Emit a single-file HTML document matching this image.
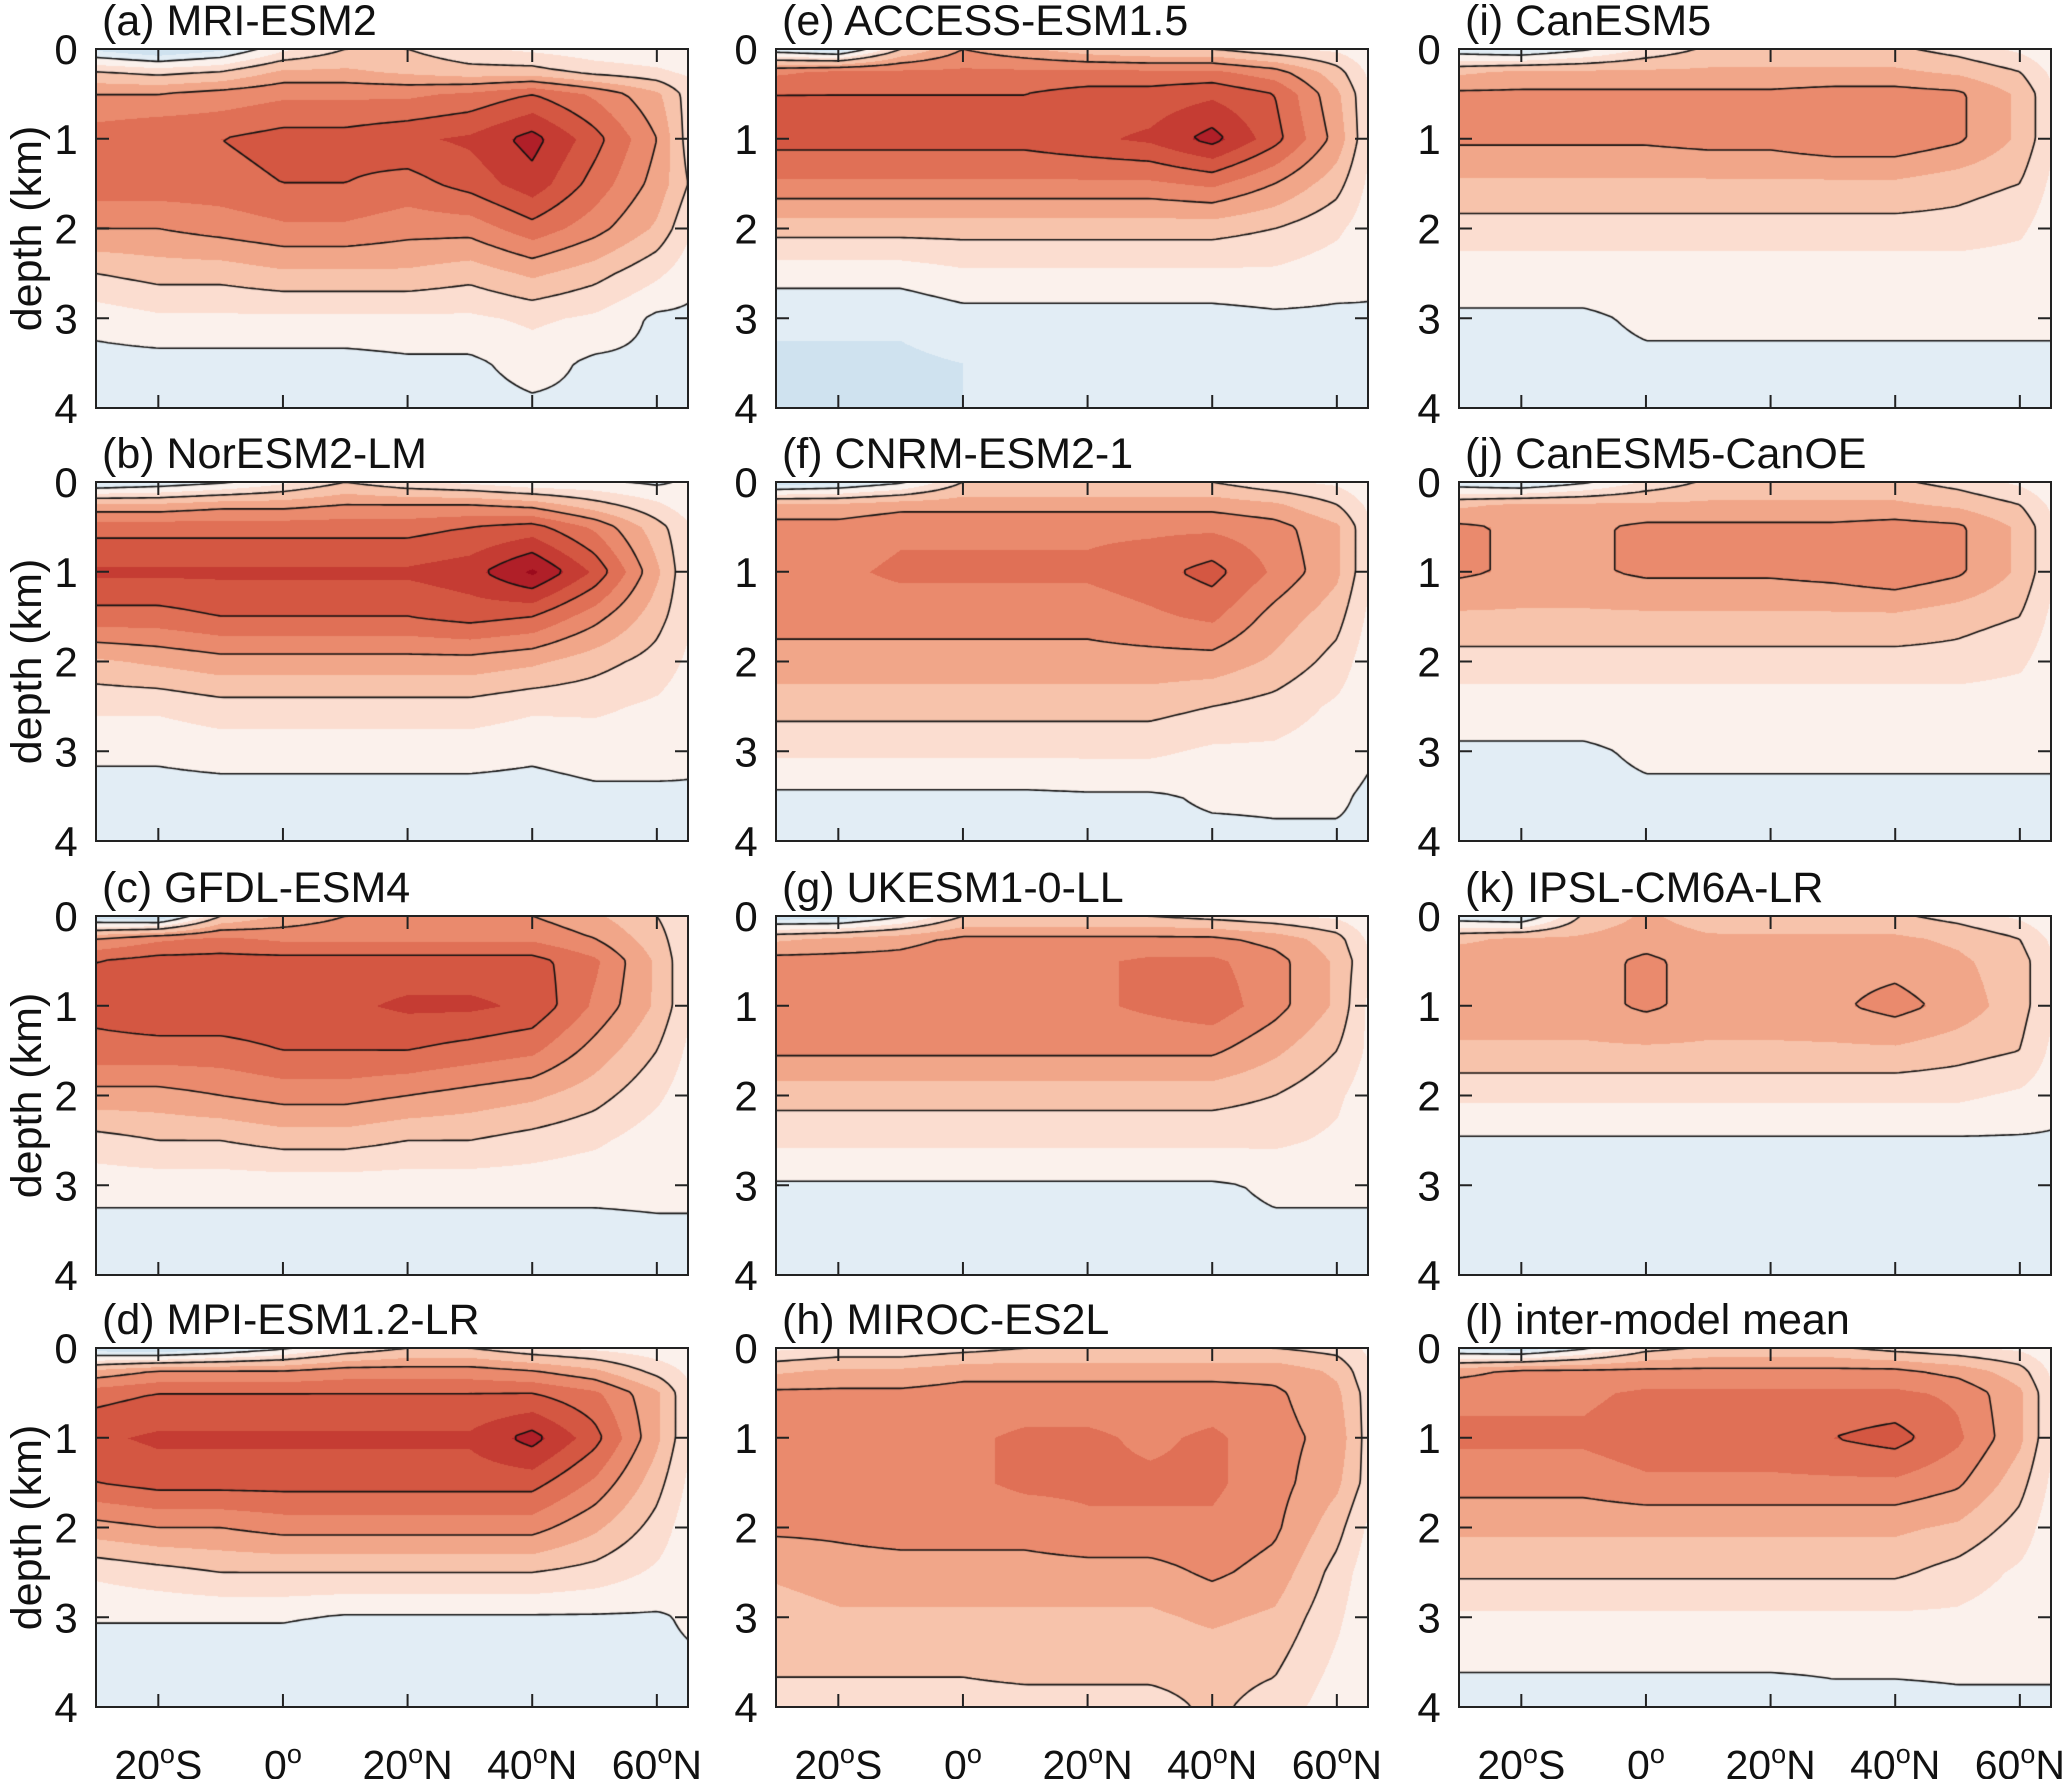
<!DOCTYPE html>
<html><head><meta charset="utf-8"><style>
body{margin:0;background:#fff;width:2067px;height:1779px;overflow:hidden;position:relative;font-family:"Liberation Sans",sans-serif}
canvas{position:absolute}
svg{position:absolute;left:0;top:0}
</style></head><body>
<div id="plots"></div>
<svg id="ov" width="2067" height="1779"></svg>
<script>
const lats=[-30,-20,-10,0,10,20,30,40,50,60,65];
const depths=[0,0.25,0.5,1,1.5,2,2.5,3,3.5,4];
const xTickLabels=["20","0","20","40","60"];
const xTickVals=[-20,0,20,40,60];
const yTickVals=[0,1,2,3,4];
const titles=["(a) MRI-ESM2","(b) NorESM2-LM","(c) GFDL-ESM4","(d) MPI-ESM1.2-LR","(e) ACCESS-ESM1.5","(f) CNRM-ESM2-1","(g) UKESM1-0-LL","(h) MIROC-ES2L","(i) CanESM5","(j) CanESM5-CanOE","(k) IPSL-CM6A-LR","(l) inter-model mean"];
const panelA=[[-3,-5,-3,2,5,5,3,2,1,0.5,0.5],[5,4,5,8,8,7,6,6,4,3,2],[10,10,11,12,12,12,13,15,12,8,4],[14,15,15,16,16,17,18,21,16,10,4],[14,14,14,15,15,14,16,19,14,9,5],[10,10,11,12,12,11,11,14,11,7,3],[5,6,6,7,7,7,6,8,6,3,1],[1,2,2,2,2,2,2,3,2,-0.5,-0.5],[-1,-1,-1,-1,-1,-0.5,-0.5,1,-0.5,-0.5,-0.5],[-2,-2,-2,-2,-2,-1.5,-1,-0.5,-0.5,-0.3,-0.3]];
const panelB=[[-3,-2,-0.5,2,5,3,2,0.5,0.5,-0.5,0.5],[8,8,9,9,10,10,10,9,6,3,1],[14,14,14,14,14,14,15,16,12,6,3],[18,18,18,18,18,18,19,23,17,8,3],[14,14,15,15,15,15,16,15,11,6,3],[7,8,9,9,9,9,9,8,6,4,2],[3,3,4,4,4,4,4,3,3,2,1],[0.5,0.5,1,1,1,1,1,0.5,1,1,0.5],[-1,-1,-1,-1,-1,-1,-1,-1,-0.5,-0.5,-0.3],[-2,-2,-2,-1.5,-1.5,-1.5,-1,-1,-1,-0.5,-0.3]];
const panelC=[[-4,-5,5,8,10,10,10,10,8,5,3],[10,12,13,12,12,12,12,12,10,6,3],[15,16,16,16,16,16,16,16,13,7,3],[16,17,17,17,17,18,18,17,12,7,3],[14,14,14,15,15,15,14,13,9,5,2],[9,9,10,11,11,10,9,8,6,3,1],[4,5,5,6,6,5,5,4,3,1,0.5],[1,1,1,1,1,1,1,1,0.5,0.5,0.5],[-1,-1,-1,-1,-1,-1,-1,-1,-0.5,-0.3,-0.3],[-1.5,-2,-2,-2,-2,-2,-1.5,-1,-0.5,-0.3,-0.3]];
const panelD=[[-4,-5,-3,-0.5,3,5,5,3,2,1,0.5],[8,10,10,10,11,11,11,10,8,4,2],[14,15,15,15,15,15,15,15,13,8,3],[17,18,18,18,18,18,18,21,16,8,3],[15,16,16,16,16,16,16,16,12,6,2],[9,10,10,11,11,11,11,11,8,4,1],[3,4,5,5,5,5,5,5,4,2,0.5],[0.3,0.3,0.3,0.3,-0.3,-0.3,-0.3,-0.3,-0.3,-0.3,0.3],[-2,-2,-2,-2,-2,-2,-2,-1.5,-1,-0.5,-0.3],[-2,-2,-2,-2,-2,-2,-2,-1.5,-1,-0.5,-0.3]];
const panelE=[[-2,-4,5,10,8,6,5,5,3,2,0.5],[12,13,13,13,13,13,13,13,11,6,2],[15,15,15,15,15,16,16,17,15,8,3],[16,16,16,16,16,17,18,21,16,9,3],[12,12,12,12,12,12,12,13,10,6,2],[6,6,6,6,6,6,6,6,5,3,1],[1,1,1,2,2,2,2,2,2,1,0.5],[-2,-2,-2,-1,-1,-1,-1,-1,-0.5,-0.5,-0.3],[-3,-3,-3,-2.5,-2,-2,-2,-1.5,-1,-0.5,-0.3],[-3,-3,-3,-2.5,-2,-2,-1.5,-1,-1,-0.5,-0.3]];
const panelF=[[-4,-3,-0.5,5,5,5,5,5,3,2,0.5],[8,8,9,9,9,9,9,9,8,5,2],[11,11,12,12,12,12,12,12,11,8,3],[12,12,13,13,13,13,14,16,12,8,3],[11,11,11,11,11,11,12,13,9,6,2],[9,9,9,9,9,9,9,9,7,4,1],[6,6,6,6,6,6,6,5,4,2,0.5],[3,3,3,3,3,3,3,2,2,1,0.3],[-0.5,-0.5,-0.5,-0.5,-0.5,-0.3,-0.3,0.3,0.3,0.3,-0.3],[-1,-1,-1,-1,-1,-1,-0.5,-0.5,-0.3,-0.3,-0.3]];
const panelG=[[-4,-4,-0.5,5,5,5,5,4,3,2,0.5],[7,8,9,10.5,10.5,10.5,10.5,10.5,9,6,2],[11,11,11,12,12,12,13,13,11,7,3],[12,12,12,12,12,12,13,14,11,7,2],[10.5,10.5,10.5,10.5,10.5,10.5,10.5,10.5,8,5,2],[6,6,6,6,6,6,6,6,5,3,1],[3,3,3,3,3,3,3,3,3,2,0.5],[-0.3,-0.3,-0.3,-0.3,-0.3,-0.3,-0.3,-0.3,0.3,0.3,0.3],[-1,-1,-1,-1,-1,-1,-1,-0.5,-0.3,-0.3,-0.3],[-1.5,-1.5,-1.5,-1.5,-1.5,-1.5,-1,-1,-0.5,-0.3,-0.3]];
const panelH=[[2,3,3,4,5,5,5,5,5,4,2],[7,8,8,9,9,9,9,9,9,7,3],[10.5,10.5,10.5,11,11,11,11,11,10.5,8,4],[11,12,11,12,13,13,12,13,11,9,4],[11,12,12,12,13,13,13,13,11,8,4],[10.5,10.5,11,11,11,12,12,12,10.5,6,2],[8,9,9,9,9,9,9,10.5,9,4,1],[6,7,7,7,7,7,7,8,7,3,0.5],[5.5,5.5,5.5,5.5,6,6,6,6,5.5,2,0.5],[4,4,4,4,4,4,4,5.5,4,1,0.3]];
const panelI=[[-2,-3,-0.5,3,5.5,5.5,5.5,5.5,4,2,0.5],[7,8,8,8,8,8,8,8,7,5,2],[10.5,10.5,10.5,10.5,10.5,10.5,11,11,10.5,7,3],[10.5,10.5,10.5,10.5,11,11,12,12,10.5,7,3],[7,7,7,7,7,7,7,7,6,5,2],[4,4,4,4,4,4,4,4,4,3,1],[1,1,1,1,1,1,1,1,1,1,0.3],[-0.3,-0.3,-0.3,0.3,0.3,0.3,0.3,0.3,0.3,0.3,0.3],[-1,-1,-0.5,-0.3,-0.3,-0.3,-0.3,-0.3,-0.3,-0.3,-0.3],[-1.5,-1.5,-1,-0.5,-0.5,-0.5,-0.5,-0.3,-0.3,-0.3,-0.3]];
const panelJ=[[-2,-3,-0.5,3,5.5,5.5,5.5,5.5,4,2,0.5],[7,8,8,8,8,8,8,8,7,5,2],[10.5,9.5,9.5,10.5,10.5,10.5,10.5,11,10.5,7,3],[10.5,9.5,9.5,10.5,10.5,10.5,11,12,10.5,7,3],[7,7,7,7,7,7,7,7,6,5,2],[4,4,4,4,4,4,4,4,4,3,1],[1,1,1,1,1,1,1,1,1,1,0.3],[-0.3,-0.3,-0.3,0.3,0.3,0.3,0.3,0.3,0.3,0.3,0.3],[-1,-1,-0.5,-0.3,-0.3,-0.3,-0.3,-0.3,-0.3,-0.3,-0.3],[-1.5,-1.5,-1,-0.5,-0.5,-0.5,-0.5,-0.3,-0.3,-0.3,-0.3]];
const panelK=[[-2,-3,5.5,8,6,5.5,5.5,5.5,4,2,0.5],[7,8,8,9,8,8,8,8,7,5,2],[9,9,9,10.5,9,9,9,9,8,6,3],[9,9,9,10.5,9,9,9.5,11,9,6,3],[7,7,7,7,7,7,7,7,6,5,2],[3,3,3,3,3,3,3,3,3,2,1],[-0.3,-0.3,-0.3,-0.3,-0.3,-0.3,-0.3,-0.3,-0.3,-0.3,-0.3],[-1,-1,-1,-1,-1,-1,-1,-1,-1,-1,-0.5],[-1.5,-2,-1.5,-1,-1,-1,-1,-1,-1,-1,-0.5],[-1.5,-2,-1.5,-1,-1,-1,-1,-1,-1,-1,-0.5]];
const panelL=[[-3,-4,-0.5,4,5.5,5.5,5.5,4,3,2,0.5],[9,10.5,10.5,10.5,10.5,10.5,10.5,10.5,9,6,2],[12,12,12,13,13,13,13,13,12,8,3],[13,13,13,14,14,14,15,16,13,8,3],[11,11,11,12,12,12,12,12,10.5,6,2],[8,8,8,8,8,8,8,8,7,4,1],[5.5,5.5,5.5,5.5,5.5,5.5,5.5,5.5,4,2,0.5],[2,2,2,2,2,2,2,2,2,1,0.3],[0.3,0.3,0.3,0.3,0.3,0.3,0.3,0.3,0.3,0.3,0.3],[-1,-1,-1,-1,-1,-1,-0.5,-0.5,-0.3,-0.3,-0.3]];
const panels=[panelA,panelB,panelC,panelD,panelE,panelF,panelG,panelH,panelI,panelJ,panelK,panelL];
const contourLevels=[-5,0,5,10,15,20];

const colX=[96,776,1459], rowY=[49,482,916,1348], PW=592, PH=359;
const latMin=-30, latMax=65, dMax=4;
const bandEdges=[-5,-2.5,0,2.5,5,7.5,10,12.5,15,17.5,20,22.5];
const bandCols=["#7fb6d9","#cfe2ef","#e2edf5","#fbf1ec","#fbddd0","#f7c3ab","#f1a689","#ea8a6d","#e07056","#d45742","#c53c33","#b01f28","#9b0a1c"];
function hex(c){return [parseInt(c.slice(1,3),16),parseInt(c.slice(3,5),16),parseInt(c.slice(5,7),16)];}
const bandRGB=bandCols.map(hex);
function xS(lat){return (lat-latMin)/(latMax-latMin)*PW;}
function yS(d){return d/dMax*PH;}
function idx(arr,v){let i=0;while(i<arr.length-2&&v>arr[i+1])i++;return [i,(v-arr[i])/(arr[i+1]-arr[i])];}
function sample(g,lat,d){const [i,fx]=idx(lats,lat),[j,fy]=idx(depths,d);
 const a=g[j][i],b=g[j][i+1],c=g[j+1][i],e=g[j+1][i+1];
 return a*(1-fx)*(1-fy)+b*fx*(1-fy)+c*(1-fx)*fy+e*fx*fy+0.001;}
function band(v){let k=0;while(k<bandEdges.length&&v>=bandEdges[k])k++;return k;}
const NS="http://www.w3.org/2000/svg";
const ov=document.getElementById('ov');
function mk(tag,at,parent){const e=document.createElementNS(NS,tag);for(const k in at)e.setAttribute(k,at[k]);(parent||ov).appendChild(e);return e;}
const host=document.getElementById('plots');
panels.forEach((g,p)=>{
 const col=Math.floor(p/4),row=p%4,X=colX[col],Y=rowY[row];
 const cv=document.createElement('canvas');cv.width=PW;cv.height=PH;cv.style.left=X+'px';cv.style.top=Y+'px';
 
 
 host.appendChild(cv);
 const ctx=cv.getContext('2d');const im=ctx.createImageData(PW,PH);
 for(let y=0;y<PH;y++){const d=y/PH*dMax;for(let x=0;x<PW;x++){const lat=latMin+x/PW*(latMax-latMin);
  const c=bandRGB[band(sample(g,lat,d))];const o=(y*PW+x)*4;im.data[o]=c[0];im.data[o+1]=c[1];im.data[o+2]=c[2];im.data[o+3]=255;}}
 ctx.putImageData(im,0,0);
 const S=4,nx=Math.ceil(PW/S)+1,ny=Math.ceil(PH/S)+1,F=[];
 for(let j=0;j<ny;j++){F[j]=[];for(let i=0;i<nx;i++)F[j][i]=sample(g,latMin+Math.min(i*S,PW)/PW*(latMax-latMin),Math.min(j*S,PH)/PH*dMax);}
 ctx.strokeStyle="#111";ctx.lineWidth=1.6;ctx.beginPath();
 contourLevels.forEach(L=>{
  for(let j=0;j<ny-1;j++)for(let i=0;i<nx-1;i++){
   const v=[F[j][i],F[j][i+1],F[j+1][i+1],F[j+1][i]];
   const P=[[i*S,j*S],[(i+1)*S,j*S],[(i+1)*S,(j+1)*S],[i*S,(j+1)*S]];
   const pts=[];
   for(let k=0;k<4;k++){const a=v[k],b=v[(k+1)%4];if((a<L)!==(b<L)){const t=(L-a)/(b-a);const A=P[k],B=P[(k+1)%4];pts.push([A[0]+(B[0]-A[0])*t,A[1]+(B[1]-A[1])*t]);}}
   if(pts.length>=2){ctx.moveTo(pts[0][0],pts[0][1]);ctx.lineTo(pts[1][0],pts[1][1]);}
   if(pts.length===4){ctx.moveTo(pts[2][0],pts[2][1]);ctx.lineTo(pts[3][0],pts[3][1]);}
  }});
 ctx.stroke();
 const gr=mk('g',{transform:`translate(${X},${Y})`});
 
 
 const fr=mk('rect',{x:0,y:0,width:PW,height:PH,fill:'none',stroke:'#222','stroke-width':2},gr);
 
 xTickVals.forEach(v=>{const x=xS(v);
  mk('line',{x1:x,x2:x,y1:PH,y2:PH-13,stroke:'#222','stroke-width':2},gr);
  mk('line',{x1:x,x2:x,y1:0,y2:13,stroke:'#222','stroke-width':2},gr);});
 yTickVals.forEach(v=>{const y=yS(v);
  mk('line',{x1:0,x2:13,y1:y,y2:y,stroke:'#222','stroke-width':2},gr);
  mk('line',{x1:PW,x2:PW-13,y1:y,y2:y,stroke:'#222','stroke-width':2},gr);
  const t=mk('text',{x:-30,y:y+15,'font-size':42,'text-anchor':'middle',fill:'#111'},gr);t.textContent=v;
  });
 const tt=mk('text',{x:6,y:-14,'font-size':43,fill:'#111'},gr);tt.textContent=titles[p];
 
 if(col===0){const yt=mk('text',{x:-55,y:PH/2,'font-size':43,'text-anchor':'middle',fill:'#111',transform:`rotate(-90 -55 ${PH/2})`},gr);yt.textContent='depth (km)';
  }
 if(row===3){xTickVals.forEach((v,k)=>{const t=mk('text',{x:xS(v),y:PH+72,'font-size':41,'text-anchor':'middle',fill:'#111'},gr);
  
  t.appendChild(document.createTextNode(xTickLabels[k]));
  const s=document.createElementNS(NS,'tspan');s.setAttribute('dy','-16');s.setAttribute('font-size','27');s.textContent='o';t.appendChild(s);
  const suf=v<0?'S':(v>0?'N':'');if(suf){const s2=document.createElementNS(NS,'tspan');s2.setAttribute('dy','16');s2.textContent=suf;t.appendChild(s2);}});}
});
</script>
</body></html>
